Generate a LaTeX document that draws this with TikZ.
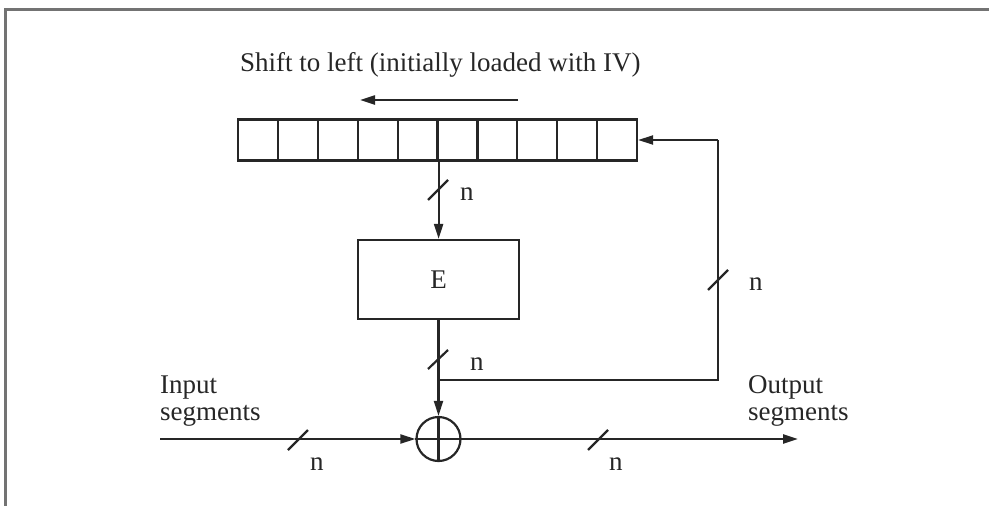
\documentclass[tikz,border=0pt]{standalone}
\usepackage{fontspec}
\setmainfont{Liberation Serif}
\usetikzlibrary{arrows.meta}
\begin{document}
\begin{tikzpicture}[x=1pt,y=1pt,
  every node/.style={font=\fontsize{27}{28}\selectfont, inner sep=0pt},
  ln/.style={line width=2.2pt, draw=black!85},
  arr/.style={ln, -{Triangle[length=15pt,width=9pt]}},
  cell/.style={draw=black!85, line width=2.2pt, minimum width=39.9pt, minimum height=41pt, inner sep=0pt},
  ebox/.style={draw=black!85, line width=2.2pt, minimum width=161pt, minimum height=79pt},
  xorc/.style={draw=black!85, line width=2.2pt, circle, minimum size=44pt, inner sep=0pt},
  slash/.style={line width=2.2pt, draw=black!85},
  lbl/.style={anchor=base west, align=left, text=black!85},
  frame/.style={draw=black!55, line width=3pt}
]
\useasboundingbox (0,0) rectangle (989,-506);
% partial frame
\draw[frame] (989,-9) -- (5,-9) -- (5,-506);

% title and shift arrow
\node[lbl] (title) at (240,-71) {Shift to left (initially loaded with IV)};
\coordinate (sa) at (518,-100);
\coordinate (sb) at (360,-100);
\draw[arr] (sa) -- (sb);

% shift register cells
\foreach \i in {1,...,10}{
  \node[cell] (c\i) at ({238+39.9*(\i-0.5)},-140) {};
}

% encryption box
\node[ebox, text=black!85] (E) at (438.5,-279.5) {E};

% XOR
\node[xorc] (xor) at (438.5,-439) {};
\draw[ln] (xor.north) -- (xor.south);
\draw[ln] (xor.west) -- (xor.east);

% register -> E
\draw[arr] (c5.south east) -- (E.north -| c5.south east);
\draw[slash] (428,-200) -- (448,-180);
\node[lbl] (n1) at (460,-200) {n};

% E -> XOR
\draw[arr] (E.south) -- (xor.north);
\draw[slash] (428,-369) -- (448,-350);
\node[lbl] (n2) at (470,-370) {n};

% feedback
\coordinate (j) at (438.5,-380);
\coordinate (fb) at (718,-380);
\coordinate (ft) at (718,-140);
\draw[ln] (j) -- (fb) -- (ft);
\draw[arr] (ft) -- (c10.east);
\draw[slash] (708,-290) -- (728,-270);
\node[lbl] (n3) at (749,-290) {n};

% input
\coordinate (in) at (160,-439);
\draw[arr] (in) -- (xor.west);
\draw[slash] (288,-450) -- (308,-430);
\node[lbl] (n4) at (310,-470) {n};
\node[lbl] (inl) at (160,-393) {Input};
\node[lbl] (ins) at (160,-420) {segments};

% output
\coordinate (out) at (798,-439);
\draw[arr] (xor.east) -- (out);
\draw[slash] (588,-450) -- (608,-430);
\node[lbl] (n5) at (609,-470) {n};
\node[lbl] (outl) at (748,-393) {Output};
\node[lbl] (outs) at (748,-420) {segments};
\end{tikzpicture}
\end{document}
